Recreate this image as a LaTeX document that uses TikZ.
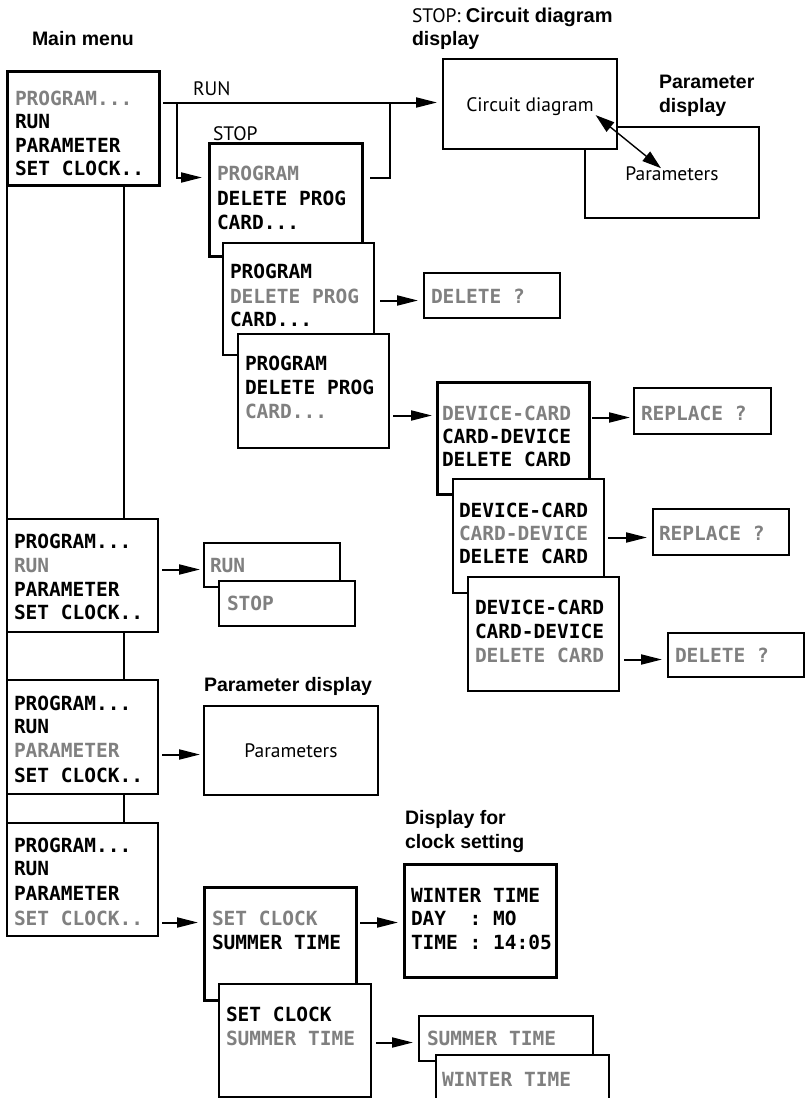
\documentclass[tikz,border=0pt]{standalone}
\usepackage{fontspec}
\setmainfont{PT Sans}
\newfontfamily\lcdfont{DejaVu Sans Mono}
\newfontfamily\boldlbl{Liberation Sans}
\usetikzlibrary{arrows.meta}
\definecolor{dimtxt}{RGB}{128,128,128}
\tikzset{
  box/.style={draw=black, fill=white, line width=1.3pt, inner sep=0pt, outer sep=0pt, anchor=north west},
  thickbox/.style={box, line width=3pt},
  lcd/.style={font=\lcdfont\bfseries\fontsize{19.5}{24}\selectfont, inner sep=0pt, outer sep=0pt, anchor=base west},
  dim/.style={lcd, text=dimtxt},
  lbl/.style={font=\fontsize{19.5}{23}\selectfont, inner sep=0pt, outer sep=0pt, anchor=base west},
  blbl/.style={lbl, font=\boldlbl\bfseries\fontsize{19.5}{23}\selectfont},
  conn/.style={line width=2pt},
  thinconn/.style={line width=1.3pt},
  arr/.style={conn, -{Triangle[length=21pt,width=10pt]}},
  darr/.style={line width=1.4pt, {Triangle[length=19pt,width=12pt]}-{Triangle[length=19pt,width=12pt]}},
}
\newcommand\mkbox[6][]{\node[box,#1,minimum width={(#5-#3)*1pt},minimum height={(#6-#4)*1pt}] (#2) at (#3,#4) {};}
\begin{document}
\begin{tikzpicture}[x=1pt,y=-1pt]
\useasboundingbox (0,0) rectangle (808,1098);

% ---------- labels ----------
\node[blbl] (mainlbl) at (32,45) {Main menu};
\node[lbl] (runlbl) at (193,95) {RUN};
\node[lbl] (stoplbl) at (213,140) {STOP};
\node[lbl] (cdh1) at (412,22) {STOP: {\boldlbl\bfseries\fontsize{20}{23}\selectfont Circuit diagram}};
\node[blbl] (cdh2) at (412,45) {display};
\node[blbl] (ph1) at (659,88) {Parameter};
\node[blbl] (ph2) at (659,112) {display};
\node[blbl] (pdl) at (204,691) {Parameter display};
\node[blbl] (dfl1) at (405,824) {Display for};
\node[blbl] (dfl2) at (405,848) {clock setting};

% ---------- main menu column ----------
\mkbox[thickbox]{main}{7}{71}{159}{185}
\node[dim] (main1) at (15,105) {PROGRAM...};
\node[lcd] (main2) at (15,128) {RUN};
\node[lcd] (main3) at (15,152) {PARAMETER};
\node[lcd] (main4) at (15,175) {SET CLOCK..};

\mkbox{runm}{7}{519}{158}{632}
\node[lcd] (runm1) at (14,548) {PROGRAM...};
\node[dim] (runm2) at (14,572) {RUN};
\node[lcd] (runm3) at (14,596) {PARAMETER};
\node[lcd] (runm4) at (14,619) {SET CLOCK..};

\mkbox{parm}{7}{680}{158}{794}
\node[lcd] (parm1) at (14,710) {PROGRAM...};
\node[lcd] (parm2) at (14,733) {RUN};
\node[dim] (parm3) at (14,757) {PARAMETER};
\node[lcd] (parm4) at (14,782) {SET CLOCK..};

\mkbox{clkm}{7}{823}{158}{936}
\node[lcd] (clkm1) at (14,852) {PROGRAM...};
\node[lcd] (clkm2) at (14,875) {RUN};
\node[lcd] (clkm3) at (14,900) {PARAMETER};
\node[dim] (clkm4) at (14,925) {SET CLOCK..};

\draw[thinconn] (main.south west) -- (runm.north west);
\draw[thinconn] ([xshift=117pt]main.south west) -- ([xshift=117pt]runm.north west);
\draw[thinconn] (runm.south west) -- (parm.north west);
\draw[thinconn] ([xshift=117pt]runm.south west) -- ([xshift=117pt]parm.north west);
\draw[thinconn] (parm.south west) -- (clkm.north west);
\draw[thinconn] ([xshift=117pt]parm.south west) -- ([xshift=117pt]clkm.north west);

% ---------- circuit diagram / parameters ----------
\mkbox{pbox}{585}{127}{759}{218}
\mkbox{cd}{443}{59}{617}{149}
\node[lbl, anchor=base] (cdt) at (530,111) {Circuit diagram};
\node[lbl, anchor=base] (pt) at (672,180) {Parameters};
\draw[darr] ([xshift=2pt]cdt.south east) -- ([xshift=-11pt,yshift=-2pt]pt.north);

% ---------- program submenu ----------
\mkbox[thickbox]{p1}{209}{143}{362}{256}
\node[dim] (p11) at (217,180) {PROGRAM};
\node[lcd] (p12) at (217,205) {DELETE PROG};
\node[lcd] (p13) at (217,229) {CARD...};

\mkbox{p2}{223}{243}{374}{355}
\node[lcd] (p21) at (230,278) {PROGRAM};
\node[dim] (p22) at (230,303) {DELETE PROG};
\node[lcd] (p23) at (230,326) {CARD...};

\mkbox{p3}{238}{334}{389}{448}
\node[lcd] (p31) at (245,370) {PROGRAM};
\node[lcd] (p32) at (245,394) {DELETE PROG};
\node[dim] (p33) at (245,418) {CARD...};

\mkbox{del1}{424}{273}{560}{318}
\node[dim] (del1t) at (431,303) {DELETE ?};

% ---------- card submenu ----------
\mkbox[thickbox]{d1}{437}{382}{589}{494}
\node[dim] (d11) at (442,420) {DEVICE-CARD};
\node[lcd] (d12) at (442,443) {CARD-DEVICE};
\node[lcd] (d13) at (442,466) {DELETE CARD};

\mkbox{d2}{453}{479}{604}{593}
\node[lcd] (d21) at (459,517) {DEVICE-CARD};
\node[dim] (d22) at (459,540) {CARD-DEVICE};
\node[lcd] (d23) at (459,563) {DELETE CARD};

\mkbox{d3}{468}{577}{619}{691}
\node[lcd] (d31) at (475,614) {DEVICE-CARD};
\node[lcd] (d32) at (475,638) {CARD-DEVICE};
\node[dim] (d33) at (475,662) {DELETE CARD};

\mkbox{rep1}{634}{388}{771}{434}
\node[dim] (rep1t) at (641,420) {REPLACE ?};
\mkbox{rep2}{653}{509}{789}{555}
\node[dim] (rep2t) at (659,540) {REPLACE ?};
\mkbox{del3}{668}{633}{804}{677}
\node[dim] (del3t) at (675,662) {DELETE ?};

% ---------- run / stop ----------
\mkbox{runb}{204}{543}{340}{587}
\node[dim] (runbt) at (210,572) {RUN};
\mkbox{stopb}{219}{581}{355}{626}
\node[dim] (stopbt) at (227,610) {STOP};

% ---------- parameters ----------
\mkbox{parb}{204}{706}{378}{795}
\node[lbl, anchor=base] (parbt) at (291,757) {Parameters};

% ---------- clock ----------
\mkbox[thickbox]{sc1}{204}{887}{356}{1000}
\node[dim] (sc11) at (212,925) {SET CLOCK};
\node[lcd] (sc12) at (212,949) {SUMMER TIME};

\mkbox[thickbox]{wint}{404}{864}{556}{977}
\node[lcd] (wint1) at (411,902) {WINTER TIME};
\node[lcd] (wint2) at (411,925) {DAY~~:~MO};
\node[lcd] (wint3) at (411,949) {TIME~:~14:05};

\mkbox{sc2}{219}{984}{371}{1097}
\node[lcd] (sc21) at (226,1021) {SET CLOCK};
\node[dim] (sc22) at (226,1045) {SUMMER TIME};

\mkbox{sumb}{419}{1016}{593}{1061}
\node[dim] (sumbt) at (427,1045) {SUMMER TIME};
\mkbox{winb}{436}{1055}{609}{1115}
\node[dim] (winbt) at (442,1086) {WINTER TIME};

% ---------- connectors ----------
\coordinate (j1) at ([xshift=18pt]main.east |- main1.mid);
\coordinate (j2) at ([xshift=28pt]p1.east |- main1.mid);
\draw[arr] ([xshift=4pt]main.east |- main1.mid) -- ([xshift=-6pt]cd.west |- main1.mid);
\draw[arr] (j1) |- ([xshift=-7pt]p1.west |- p11.mid);
\draw[conn] ([xshift=8pt]p1.east |- p11.mid) -| (j2);

\draw[arr] ([xshift=6pt]p2.east |- p22.mid) -- ([xshift=-6pt]del1.west |- p22.mid);
\draw[arr] ([xshift=4pt]p3.east |- p33.mid) -- ([xshift=-5pt]d1.west |- p33.mid);
\draw[arr] ([xshift=3pt]d1.east |- d11.mid) -- ([xshift=-4pt]rep1.west |- d11.mid);
\draw[arr] ([xshift=4pt]d2.east |- d22.mid) -- ([xshift=-6pt]rep2.west |- d22.mid);
\draw[arr] ([xshift=5pt]d3.east |- d33.mid) -- ([xshift=-6pt]del3.west |- d33.mid);
\draw[arr] ([xshift=4pt]runm.east |- runm2.mid) -- ([xshift=-4pt]runb.west |- runm2.mid);
\draw[arr] ([xshift=4pt]parm.east |- parm3.mid) -- ([xshift=-4pt]parb.west |- parm3.mid);
\draw[arr] ([xshift=4pt]clkm.east |- clkm4.mid) -- ([xshift=-6pt]sc1.west |- clkm4.mid);
\draw[arr] ([xshift=4pt]sc1.east |- sc11.mid) -- ([xshift=-6pt]wint.west |- sc11.mid);
\draw[arr] ([xshift=5pt]sc2.east |- sc22.mid) -- ([xshift=-6pt]sumb.west |- sc22.mid);
\end{tikzpicture}
\end{document}
